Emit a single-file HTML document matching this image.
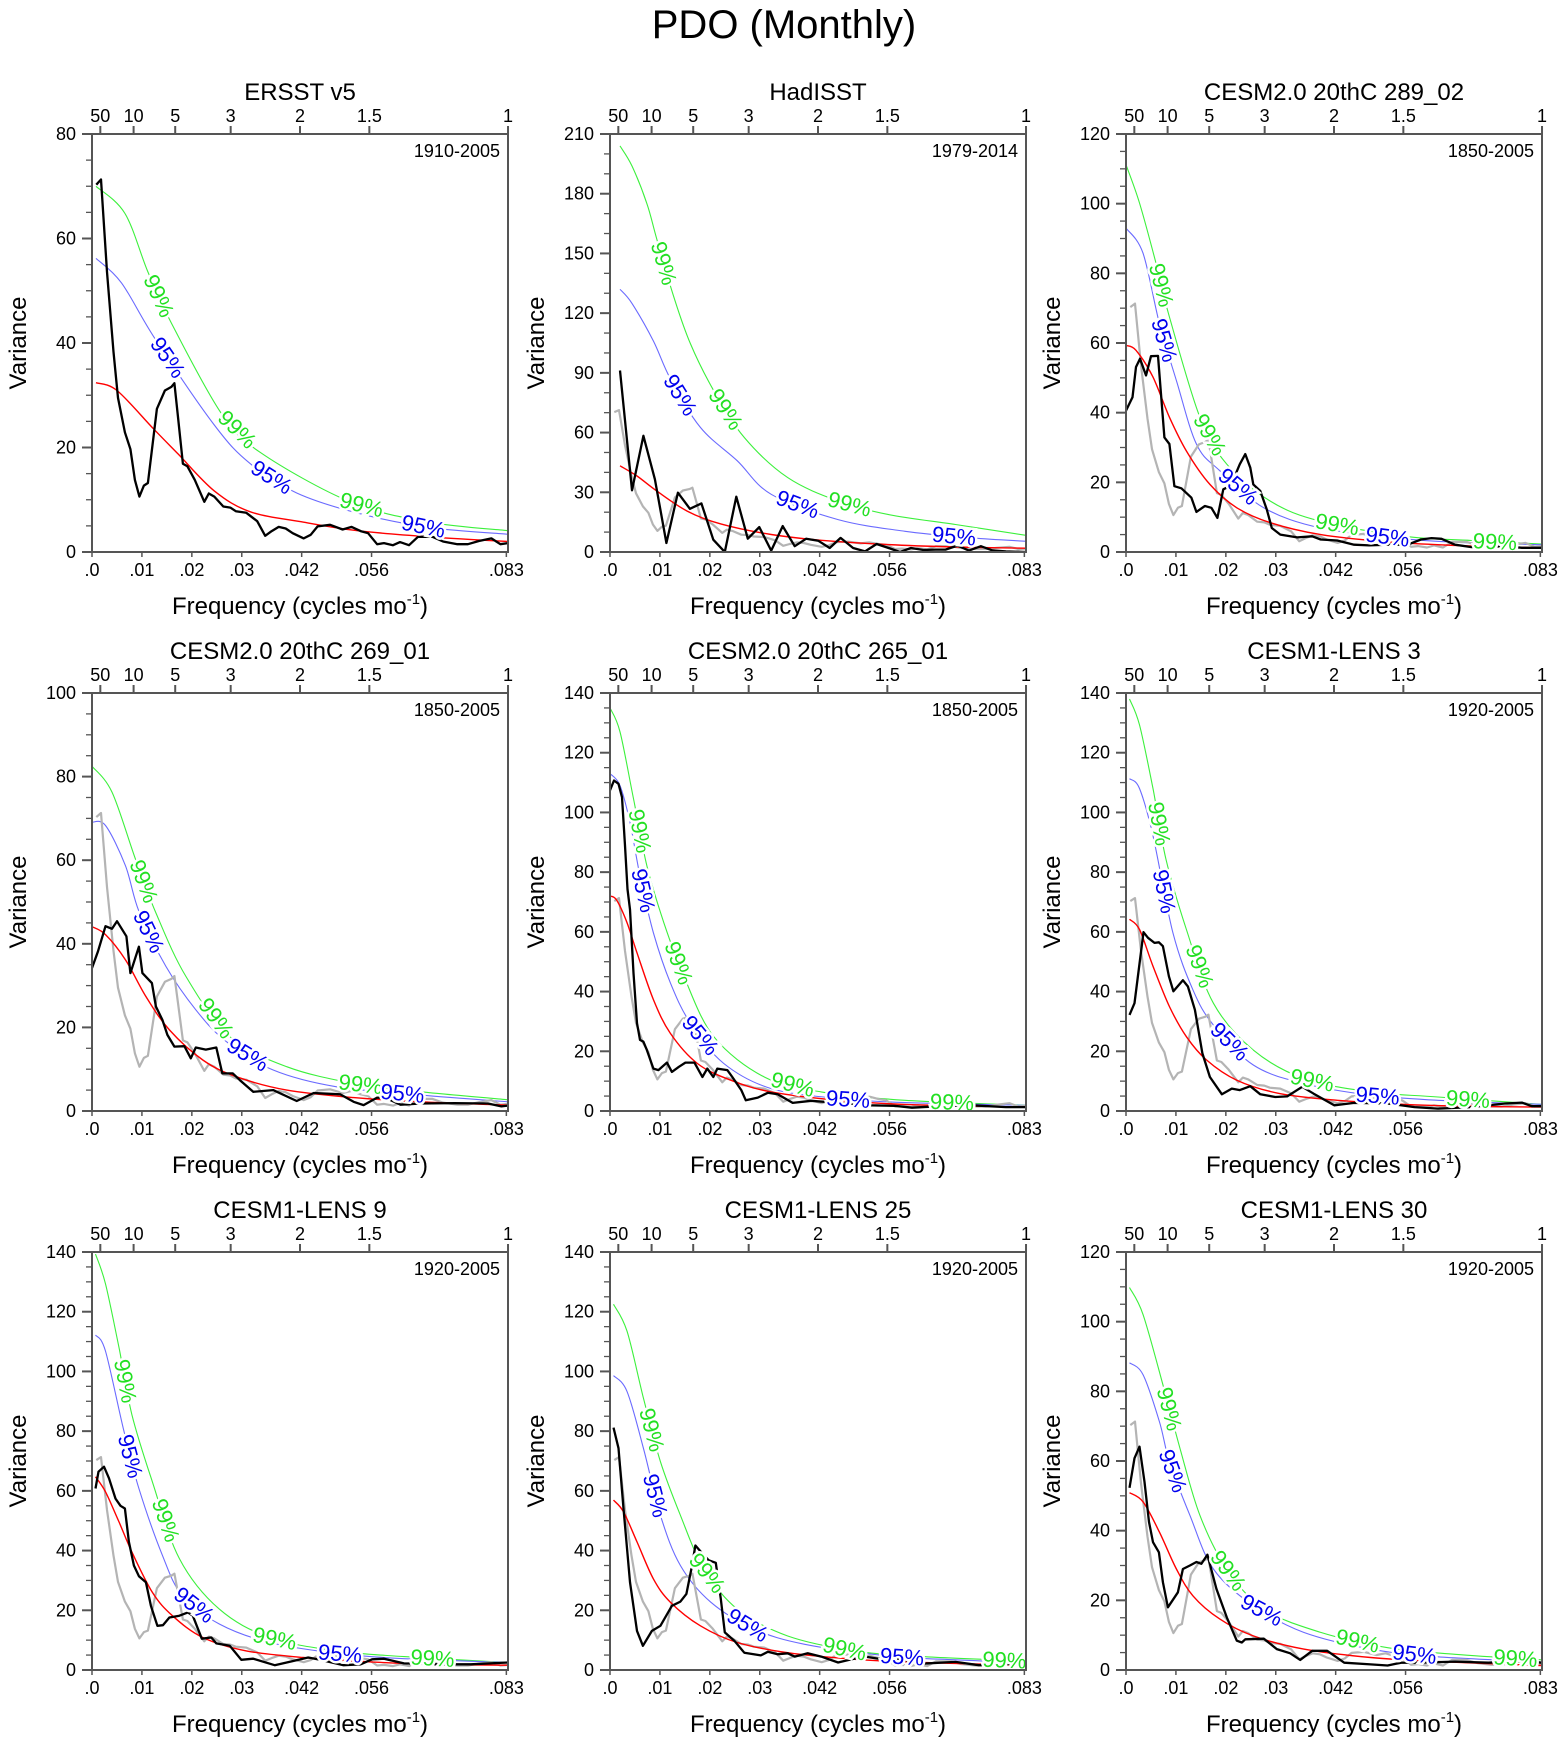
<!DOCTYPE html>
<html><head><meta charset="utf-8"><title>PDO (Monthly)</title>
<style>
html,body{margin:0;padding:0;background:#fff;}
svg{display:block;font-family:"Liberation Sans",Arial,sans-serif;}
</style></head>
<body>
<svg id="chart" width="1563" height="1741" viewBox="0 0 1563 1741" xmlns="http://www.w3.org/2000/svg">
<rect x="0" y="0" width="1563" height="1741" fill="#fff"/>
<text x="784" y="38" font-size="40" text-anchor="middle" fill="#000">PDO (Monthly)</text>
</svg>
<script>
const ersstF=[0.00086,0.0018,0.003,0.0043,0.0052,0.0066,0.0077,0.0086,0.0095,0.0104,0.0112,0.013,0.0146,0.0159,0.0165,0.0172,0.0182,0.0191,0.0206,0.0225,0.0234,0.0245,0.0263,0.0277,0.0288,0.0309,0.0331,0.0347,0.036,0.0374,0.0388,0.0402,0.0424,0.0438,0.0452,0.0477,0.0502,0.052,0.0538,0.0553,0.0571,0.0585,0.0603,0.0617,0.0635,0.0653,0.0682,0.0703,0.0732,0.0753,0.0775,0.08,0.0818,0.0833];
const ersstV=[70.3,71.3,53.6,38.3,29.5,22.9,19.7,13.8,10.6,12.7,13.2,27.4,30.9,31.6,32.3,26.0,16.9,16.4,13.8,9.6,11.2,10.6,8.7,8.5,7.8,7.5,5.9,3.1,4.0,4.8,4.5,3.6,2.6,3.3,4.9,5.2,4.3,4.8,4.0,3.6,1.5,1.7,1.3,1.9,1.3,2.9,2.9,2.0,1.5,1.5,2.1,2.6,1.5,1.7];

const hadF=[0.002,0.0044,0.0067,0.009,0.0113,0.0136,0.016,0.0183,0.0207,0.023,0.0253,0.0276,0.0299,0.0323,0.0346,0.037,0.0393,0.0417,0.044,0.0462,0.0487,0.0511,0.0534,0.0558,0.0581,0.0603,0.0628,0.0652,0.0672,0.0696,0.0719,0.0743,0.0766,0.0793,0.0833];
const hadV=[91.2,31,58.4,36.5,4.5,29.8,21.7,24.4,6.2,0,27.8,6.7,12.5,0.7,13,2.9,6.7,5.7,2,7.1,2,0.3,4,2,0,2,1,1.2,1.2,3.2,0.7,2.9,0.8,0.3,0];

const c289F=[0,0.0013,0.002,0.0028,0.004,0.005,0.0064,0.0077,0.0087,0.0097,0.0111,0.0131,0.0141,0.0158,0.0171,0.0183,0.0195,0.0208,0.0218,0.0228,0.0239,0.0249,0.0255,0.0269,0.0282,0.0292,0.0309,0.0343,0.0373,0.039,0.0423,0.0457,0.0487,0.0524,0.0564,0.0591,0.0612,0.0632,0.0659,0.0692,0.0726,0.0766,0.0793,0.0833];
const c289V=[40.6,44.4,53.1,55.5,50.7,56.2,56.3,32.9,31,18.9,18.3,15.6,11.5,13.2,12.7,9.8,18,18.9,21.8,25.2,28.1,24.2,19.4,17.5,12.2,6.9,5,4.2,4.5,3.6,3.3,2.1,1.9,2.1,2.1,3.6,4,3.8,2.1,1.4,1.6,1.6,1.2,1.2];

const c269F=[0,0.0012,0.0027,0.004,0.005,0.0069,0.0077,0.0094,0.0101,0.012,0.0128,0.0141,0.0151,0.0165,0.0185,0.0198,0.0208,0.0228,0.0249,0.0261,0.0282,0.0296,0.0323,0.0363,0.041,0.0444,0.0497,0.0524,0.0544,0.0571,0.0591,0.0618,0.0659,0.0726,0.0793,0.082,0.0833];
const c269V=[34.2,38.2,44.2,43.6,45.4,41.8,33,39.3,33,30.6,25,21.8,18.2,15.4,15.5,12.6,15.2,14.7,15.2,9,9,7.4,4.6,5,2.4,4.3,4,2.2,1.4,3.2,3,1.5,1.8,1.9,1.8,1.1,1.3];

const c265F=[0,0.0008,0.0017,0.0024,0.003,0.0035,0.004,0.0047,0.0054,0.006,0.0067,0.0074,0.0087,0.0097,0.0114,0.0124,0.0138,0.0151,0.0169,0.0185,0.0195,0.0207,0.0215,0.0235,0.0245,0.0263,0.0272,0.0296,0.0316,0.0336,0.0366,0.0403,0.0457,0.0524,0.0571,0.0605,0.0659,0.0726,0.0793,0.0833];
const c265V=[107.4,110.7,109.6,105.1,88.9,74.3,67.5,46.2,29.4,23.8,23.2,20.4,14.2,13.7,16.2,13.1,14.8,16.2,16.2,11.4,14.2,11.4,14.2,13.7,11.4,7,3.6,4.5,6.1,5.6,2.7,3.4,2.7,1.9,1.7,1.1,1.6,1.9,1.3,1.3];

const l3F=[0.0007,0.0017,0.0035,0.0044,0.0057,0.0066,0.0074,0.0086,0.0095,0.0114,0.0124,0.0138,0.0153,0.0168,0.0192,0.0212,0.0228,0.0249,0.0269,0.0299,0.0323,0.0353,0.0376,0.0417,0.0457,0.0524,0.0578,0.0625,0.0692,0.0759,0.0793,0.0813,0.0833];
const l3V=[32.2,36.1,59.9,58,56.3,56.5,55.2,45.1,40.1,43.8,41.7,33.9,19.3,11.4,5.6,7.5,7,8.3,5.6,4.7,4.9,8.1,5.8,1.9,2.7,2.5,1.3,0.8,1.3,2.5,2.8,1.6,1.6];

const l9F=[0.0007,0.0013,0.0024,0.0034,0.0047,0.0057,0.0066,0.0074,0.0084,0.0094,0.0108,0.0118,0.0131,0.0142,0.0155,0.0175,0.0192,0.0202,0.022,0.0239,0.0249,0.0276,0.0299,0.0323,0.0366,0.0403,0.0433,0.0457,0.0504,0.0538,0.0561,0.0585,0.0625,0.0692,0.0759,0.0833];
const l9V=[60.8,66.4,68.1,64.2,57.4,55,54.1,42.9,35,31.4,29.4,21.5,14.8,15,17.6,18.2,19.3,18.2,10.5,10.9,8.9,8.1,3.4,3.8,1.6,3,4.2,3.4,1.6,1.9,3.6,3.8,2.2,1.9,1.9,2.5];

const l25F=[0.0007,0.0017,0.0027,0.004,0.0054,0.0066,0.0084,0.0101,0.0124,0.0141,0.0153,0.0163,0.0171,0.0188,0.0198,0.0212,0.0222,0.023,0.0249,0.0269,0.0302,0.0316,0.0336,0.0356,0.037,0.0396,0.0423,0.0457,0.0484,0.0511,0.0544,0.0578,0.0625,0.0692,0.0739,0.0833];
const l25V=[81.2,74.3,54.1,29.4,13.1,8.1,13.1,14.8,21.5,22.9,25.5,33.9,41.7,38.4,36.7,35.9,23.8,12.6,9.8,5.8,4.9,6.1,5.3,5.6,4.5,5.6,4.5,2.5,3.6,4.5,3.6,3.8,2.1,2.7,1.6,2.2];

const l30F=[0.0007,0.0017,0.0027,0.0037,0.0046,0.0054,0.0066,0.0074,0.0084,0.0104,0.0114,0.0128,0.0141,0.0151,0.0163,0.0181,0.0202,0.0222,0.0232,0.0239,0.0276,0.0302,0.0329,0.0349,0.0373,0.0403,0.0437,0.049,0.0524,0.0551,0.0591,0.0659,0.0726,0.0793,0.0833];
const l30V=[52.3,60.8,64.1,54,42.5,36.7,33.8,25.2,18,22.3,29,30,31,30.5,33.1,23.3,15.1,8.4,7.9,8.8,9,6,4.8,2.9,5.5,5.5,2.1,1.6,1.3,2.1,2.1,2.4,2.1,2.6,2.1];

const red1F=[0.0008,0.005,0.0123,0.0173,0.0245,0.0317,0.0424,0.053,0.0675,0.0833];
const red1V=[32.4,30.9,23.6,18.7,11.7,7.7,5.7,4.1,2.9,2.0];
const c95_1F=[0.0008,0.0059,0.0127,0.0245,0.0317,0.041,0.053,0.0675,0.0833];
const c95_1V=[56.2,51.5,40.7,24.3,16.9,11.3,7.5,4.7,3.4];
const c99_1F=[0.0008,0.0066,0.0112,0.0159,0.026,0.0338,0.0517,0.0675,0.0833];
const c99_1V=[70,64.8,53.6,43.8,26.4,19.0,9.6,5.7,4.1];

const red2F=[0.002,0.0054,0.0094,0.0155,0.0222,0.0323,0.0423,0.0558,0.0692,0.0833];
const red2V=[43.3,38.2,30.6,20.5,14.1,8.8,5.9,3.7,2.5,1.9];
const c95_2F=[0.002,0.0044,0.0087,0.0121,0.0181,0.0255,0.0323,0.0457,0.0591,0.0726,0.0833];
const c95_2V=[132,124.9,106,87,62.6,45.8,29,16.3,10.4,7.1,5.4];
const c99_2F=[0.002,0.0044,0.0074,0.0094,0.0128,0.0161,0.0208,0.0269,0.0356,0.0457,0.0558,0.0692,0.0833];
const c99_2V=[204,193.9,175,157,128,104.7,81,57.5,37.4,25.6,18.8,13.8,8.4];

const red3F=[0,0.002,0.0054,0.0087,0.0121,0.0168,0.0222,0.0289,0.039,0.0524,0.0659,0.0833];
const red3V=[59.3,57.9,50.2,38.7,29,19.4,12.7,8.4,5,2.9,1.9,1.2];
const c95_3F=[0,0.0034,0.0067,0.0101,0.0141,0.0188,0.0276,0.039,0.0558,0.0692,0.0833];
const c95_3V=[93,85.8,65.6,49.2,31,23.3,12.7,6.9,3.8,2.6,2.1];
const c99_3F=[0,0.0027,0.006,0.0087,0.0148,0.0202,0.0289,0.039,0.0558,0.0692,0.0833];
const c99_3V=[111.2,100.2,82.9,67.5,38.7,25.2,14.6,8.8,4.5,3.3,2.3];

const red4F=[0,0.0027,0.0067,0.0108,0.0155,0.0222,0.0289,0.039,0.0524,0.0659,0.0833];
const red4V=[44.1,42.2,36.2,27.4,19.4,12.2,8.2,5,3.2,2.2,1.4];
const c95_4F=[0,0.0027,0.0067,0.0094,0.0148,0.0208,0.0269,0.0363,0.049,0.0659,0.0833];
const c95_4V=[69.1,68.3,58.7,47.8,34.6,24.2,16.6,9.8,5.8,3.8,2.2];
const c99_4F=[0,0.004,0.0087,0.0128,0.0188,0.0276,0.039,0.0524,0.0659,0.0833];
const c99_4V=[82.5,76.3,60.3,47.4,32.2,17.8,10.6,6.6,4.6,2.7];

const red5F=[0,0.0013,0.0034,0.0054,0.0087,0.0121,0.0175,0.0242,0.0323,0.0457,0.0591,0.0833];
const red5V=[72,70.7,63.1,53,37.3,26,15.9,10.3,6.4,3.6,2.2,1.3];
const c95_5F=[0,0.002,0.004,0.006,0.0087,0.0121,0.0161,0.0228,0.0323,0.0457,0.0591,0.0833];
const c95_5V=[113,109,96.7,78.8,59.7,42.9,29.4,15.9,7.5,4.2,2.8,1.9];
const c99_5F=[0,0.002,0.0047,0.0074,0.0108,0.0148,0.0208,0.0309,0.0423,0.0591,0.0833];
const c99_5V=[135,127,104.6,82.1,63,45.1,24.9,11.4,6.4,3.6,1.9];

const red6F=[0.0007,0.0027,0.0054,0.0087,0.0121,0.0161,0.0222,0.0309,0.0423,0.0558,0.0692,0.0833];
const red6V=[64.2,60.8,48.5,35,24.9,17.1,10.3,5.8,3.6,2.2,1.6,1.3];
const c95_6F=[0.0007,0.0027,0.0054,0.0094,0.0134,0.0175,0.0255,0.0356,0.049,0.0625,0.0833];
const c95_6V=[111.3,108,92.2,59.7,40.6,28.8,15.4,9.2,5.3,3.6,2.2];
const c99_6F=[0.0007,0.0027,0.0054,0.008,0.0121,0.0175,0.0255,0.0356,0.049,0.0625,0.0833];
const c99_6V=[138,129.3,108,84.4,60.8,36.1,20.4,10.9,6.4,4.7,2.2];

const red7F=[0.0007,0.0027,0.0054,0.008,0.0121,0.0161,0.0222,0.0309,0.0423,0.0558,0.0692,0.0833];
const red7V=[64.7,59.7,49.6,39.5,26,18.2,10.9,6.4,4.2,2.7,1.9,1.6];
const c95_7F=[0.0007,0.0027,0.0064,0.0094,0.0141,0.0181,0.0255,0.0356,0.049,0.0625,0.0833];
const c95_7V=[112.2,106.8,79.9,60.8,38.4,24.9,15.4,9.2,5.6,3.8,2.5];
const c99_7F=[0.0007,0.0027,0.0054,0.008,0.0121,0.0175,0.0255,0.0356,0.049,0.0625,0.0833];
const c99_7V=[139.3,129.3,108,85.5,63,37.3,20.4,10.9,6.4,4.5,2.5];

const red8F=[0.0007,0.0027,0.0054,0.0087,0.0121,0.0181,0.0255,0.0356,0.049,0.0625,0.0833];
const red8V=[56.9,53,42.9,30.5,22.7,14.8,9.2,5.8,3.6,2.5,1.6];
const c95_8F=[0.0007,0.0034,0.0067,0.0101,0.0141,0.0202,0.0289,0.039,0.0558,0.0692,0.0833];
const c95_8V=[98.6,93.3,74.3,51.8,35,22.7,13.7,8.6,4.7,3.4,2.5];
const c99_8F=[0.0007,0.0034,0.0067,0.0101,0.0141,0.0188,0.0255,0.0356,0.049,0.0625,0.0833];
const c99_8V=[122.5,113.5,91.1,69.8,51.8,33.9,20.4,11.4,6.4,4.5,3.0];

const red9F=[0.0007,0.0034,0.0067,0.0101,0.0134,0.0188,0.0255,0.0356,0.049,0.0625,0.0833];
const red9V=[50.9,48.3,39.6,29,21.3,14.6,9.8,6,3.6,2.4,1.3];
const c95_9F=[0.0007,0.0034,0.0067,0.0087,0.0128,0.0175,0.0255,0.0356,0.049,0.0625,0.0833];
const c95_9V=[88.2,84.8,71.3,59.8,44.4,29,18.5,10.8,6,3.8,2.3];
const c99_9F=[0.0007,0.0034,0.0074,0.0108,0.0148,0.0202,0.0276,0.039,0.0524,0.0659,0.0833];
const c99_9V=[109.8,102.1,81.9,63.7,44.4,29,17.5,10.8,6.4,4.5,2.9];

const xTickVals=[0,0.01,0.02,0.03,0.042,0.056,0.083];
const xTickLabels=[".0",".01",".02",".03",".042",".056",".083"];
const periodYears=[50,10,5,3,2,1.5,1];
const periodLabels=["50","10","5","3","2","1.5","1"];

const titles=["ERSST v5","HadISST","CESM2.0 20thC 289_02","CESM2.0 20thC 269_01","CESM2.0 20thC 265_01","CESM1-LENS 3","CESM1-LENS 9","CESM1-LENS 25","CESM1-LENS 30"];
const periods=["1910-2005","1979-2014","1850-2005","1850-2005","1850-2005","1920-2005","1920-2005","1920-2005","1920-2005"];
const yMaxes=[80,210,120,100,140,140,140,140,120];
const yMajorSteps=[20,30,20,20,20,20,20,20,20];
const yMinorSteps=[5,10,5,5,5,5,5,5,5];

const NS="http://www.w3.org/2000/svg";
const svg=document.getElementById('chart');
const colL=[92,610,1126], rowT=[134,693,1252], PW=416, PH=418, FMAX=0.08333;

function el(tag,attrs,parent){const e=document.createElementNS(NS,tag);for(const k in attrs)e.setAttribute(k,attrs[k]);(parent||svg).appendChild(e);return e;}
function interp(F,V,f){if(f<=F[0])return V[0];for(let i=1;i<F.length;i++){if(f<=F[i]){const t=(f-F[i-1])/(F[i]-F[i-1]);return V[i-1]+t*(V[i]-V[i-1]);}}return V[V.length-1];}
function smoothPath(pts){let d=`M${pts[0][0].toFixed(1)},${pts[0][1].toFixed(1)}`;for(let i=0;i<pts.length-1;i++){const p0=pts[i-1]||pts[i],p1=pts[i],p2=pts[i+1],p3=pts[i+2]||p2;const c1x=p1[0]+(p2[0]-p0[0])/6,c1y=p1[1]+(p2[1]-p0[1])/6,c2x=p2[0]-(p3[0]-p1[0])/6,c2y=p2[1]-(p3[1]-p1[1])/6;d+=` C${c1x.toFixed(1)},${c1y.toFixed(1)} ${c2x.toFixed(1)},${c2y.toFixed(1)} ${p2[0].toFixed(1)},${p2[1].toFixed(1)}`;}return d;}

const panels=[
 {black:[ersstF,ersstV],gray:false,red:[red1F,red1V],c95:[c95_1F,c95_1V],c99:[c99_1F,c99_1V],l99:[0.0134,0.0291,0.054],l95:[0.0152,0.036,0.0664]},
 {black:[hadF,hadV],gray:true,red:[red2F,red2V],c95:[c95_2F,c95_2V],c99:[c99_2F,c99_2V],l99:[0.0108,0.0232,0.048],l95:[0.0141,0.0376,0.0689]},
 {black:[c289F,c289V],gray:true,red:[red3F,red3V],c95:[c95_3F,c95_3V],c99:[c99_3F,c99_3V],l99:[0.0071,0.0168,0.0423,0.0739],l95:[0.0077,0.0225,0.0524]},
 {black:[c269F,c269V],gray:true,red:[red4F,red4V],c95:[c95_4F,c95_4V],c99:[c99_4F,c99_4V],l99:[0.0104,0.0249,0.0538],l95:[0.0114,0.0312,0.0622]},
 {black:[c265F,c265V],gray:true,red:[red5F,red5V],c95:[c95_5F,c95_5V],c99:[c99_5F,c99_5V],l99:[0.006,0.0138,0.0366,0.0685],l95:[0.0067,0.0181,0.0477]},
 {black:[l3F,l3V],gray:true,red:[red6F,red6V],c95:[c95_6F,c95_6V],c99:[c99_6F,c99_6V],l99:[0.0067,0.0148,0.0373,0.0685],l95:[0.0077,0.0208,0.0504]},
 {black:[l9F,l9V],gray:true,red:[red7F,red7V],c95:[c95_7F,c95_7V],c99:[c99_7F,c99_7V],l99:[0.0067,0.0148,0.0366,0.0682],l95:[0.0077,0.0205,0.0497]},
 {black:[l25F,l25V],gray:true,red:[red8F,red8V],c95:[c95_8F,c95_8V],c99:[c99_8F,c99_8V],l99:[0.0084,0.0195,0.047,0.079],l95:[0.0091,0.0276,0.0585]},
 {black:[l30F,l30V],gray:true,red:[red9F,red9V],c95:[c95_9F,c95_9V],c99:[c99_9F,c99_9V],l99:[0.0087,0.0205,0.0464,0.078],l95:[0.0094,0.0272,0.0578]}
];

panels.forEach((p,i)=>{
  const L=colL[i%3], T=rowT[Math.floor(i/3)], B=T+PH, R=L+PW, ymax=yMaxes[i];
  const sx=f=>L+f/FMAX*PW, sy=v=>B-v/ymax*PH;
  const g=el('g',{});
  
  
  const clipId='clip'+i;
  const cp=el('clipPath',{id:clipId},g); el('rect',{x:L,y:T,width:PW,height:PH},cp);
  const plot=el('g',{'clip-path':`url(#${clipId})`},g);
  
  

  function curve(arr,color,w,name){
    const pts=arr[0].map((f,k)=>[sx(f),sy(arr[1][k])]);
    const e=el('path',{d:smoothPath(pts),fill:'none',stroke:color,'stroke-width':w},plot);
    
    
  }
  function poly(arr,color,w,name){
    const pts=arr[0].map((f,k)=>sx(f).toFixed(1)+','+sy(arr[1][k]).toFixed(1)).join(' ');
    const e=el('polyline',{points:pts,fill:'none',stroke:color,'stroke-width':w,'stroke-linejoin':'round'},plot);
    
    
  }
  curve(p.c99,'#3cf03c',1.1,'confidence-99-line');
  curve(p.c95,'#6a6aff',1.1,'confidence-95-line');
  if(p.gray) poly([ersstF,ersstV],'#b4b4b4',2.2,'ersst-reference-spectrum');
  curve(p.red,'#ff0000',1.4,'red-noise-line');
  poly(p.black,'#000',2.3,'spectrum-line');

  function labels(fs,arr,color,txt,name){
    fs.forEach(f=>{
      const x=sx(f), y=sy(interp(arr[0],arr[1],f));
      const x2=sx(f+0.0008), y2=sy(interp(arr[0],arr[1],f+0.0008));
      const x1=sx(f-0.0008), y1=sy(interp(arr[0],arr[1],f-0.0008));
      const ang=Math.atan2(y2-y1,x2-x1)*180/Math.PI;
      const t=el('text',{x:x.toFixed(1),y:y.toFixed(1),'font-size':22,fill:color,'text-anchor':'middle','dominant-baseline':'central',stroke:'#fff','stroke-width':5,'paint-order':'stroke',transform:`rotate(${ang.toFixed(1)} ${x.toFixed(1)} ${y.toFixed(1)})`},g);
      
      
      t.textContent=txt;
    });
  }
  labels(p.l99,p.c99,'#22e022','99%','label-99');
  labels(p.l95,p.c95,'#0000ee','95%','label-95');

  const fr=el('rect',{x:L,y:T,width:PW,height:PH,fill:'none',stroke:'#555','stroke-width':2},g);
  
  

  for(let v=0;v<=ymax+1e-6;v+=yMinorSteps[i]){
    const major=Math.abs(v/yMajorSteps[i]-Math.round(v/yMajorSteps[i]))<1e-6;
    const y=sy(v);
    el('line',{x1:L-(major?10:6),x2:L,y1:y,y2:y,stroke:'#555','stroke-width':major?2:1.3},g);
    if(major){
      const t=el('text',{x:L-16,y:y+6,'font-size':18,'text-anchor':'end',fill:'#000'},g);
      
      
      t.textContent=String(v);
    }
  }
  xTickVals.forEach((f,k)=>{
    const x=sx(f);
    el('line',{x1:x,x2:x,y1:B,y2:B+5,stroke:'#555','stroke-width':1.5},g);
    const t=el('text',{x:x,y:B+24,'font-size':18,'text-anchor':'middle',fill:'#000'},g);
    
    
    t.textContent=xTickLabels[k];
  });
  periodYears.forEach((yr,k)=>{
    const x=sx(1/(12*yr));
    el('line',{x1:x,x2:x,y1:T-8,y2:T,stroke:'#555','stroke-width':2},g);
    const t=el('text',{x:x,y:T-12,'font-size':18,'text-anchor':'middle',fill:'#000'},g);
    
    
    t.textContent=periodLabels[k];
  });
  const tt=el('text',{x:(L+R)/2,y:T-34,'font-size':24,'text-anchor':'middle',fill:'#000'},g);
  
  
  tt.textContent=titles[i];
  const pt=el('text',{x:R-8,y:T+23,'font-size':18,'text-anchor':'end',fill:'#000'},g);
  
  
  pt.textContent=periods[i];
  const yt=el('text',{x:L-66,y:(T+B)/2,'font-size':24,'text-anchor':'middle',fill:'#000',transform:`rotate(-90 ${L-66} ${(T+B)/2})`},g);
  
  
  yt.textContent='Variance';
  const xt=el('text',{x:(L+R)/2,y:B+62,'font-size':24,'text-anchor':'middle',fill:'#000'},g);
  
  
  xt.appendChild(document.createTextNode('Frequency (cycles mo'));
  const s1=el('tspan',{dy:-10,'font-size':15},xt); s1.textContent='-1';
  const s2=el('tspan',{dy:10},xt); s2.textContent=')';
});
</script>
</body></html>
